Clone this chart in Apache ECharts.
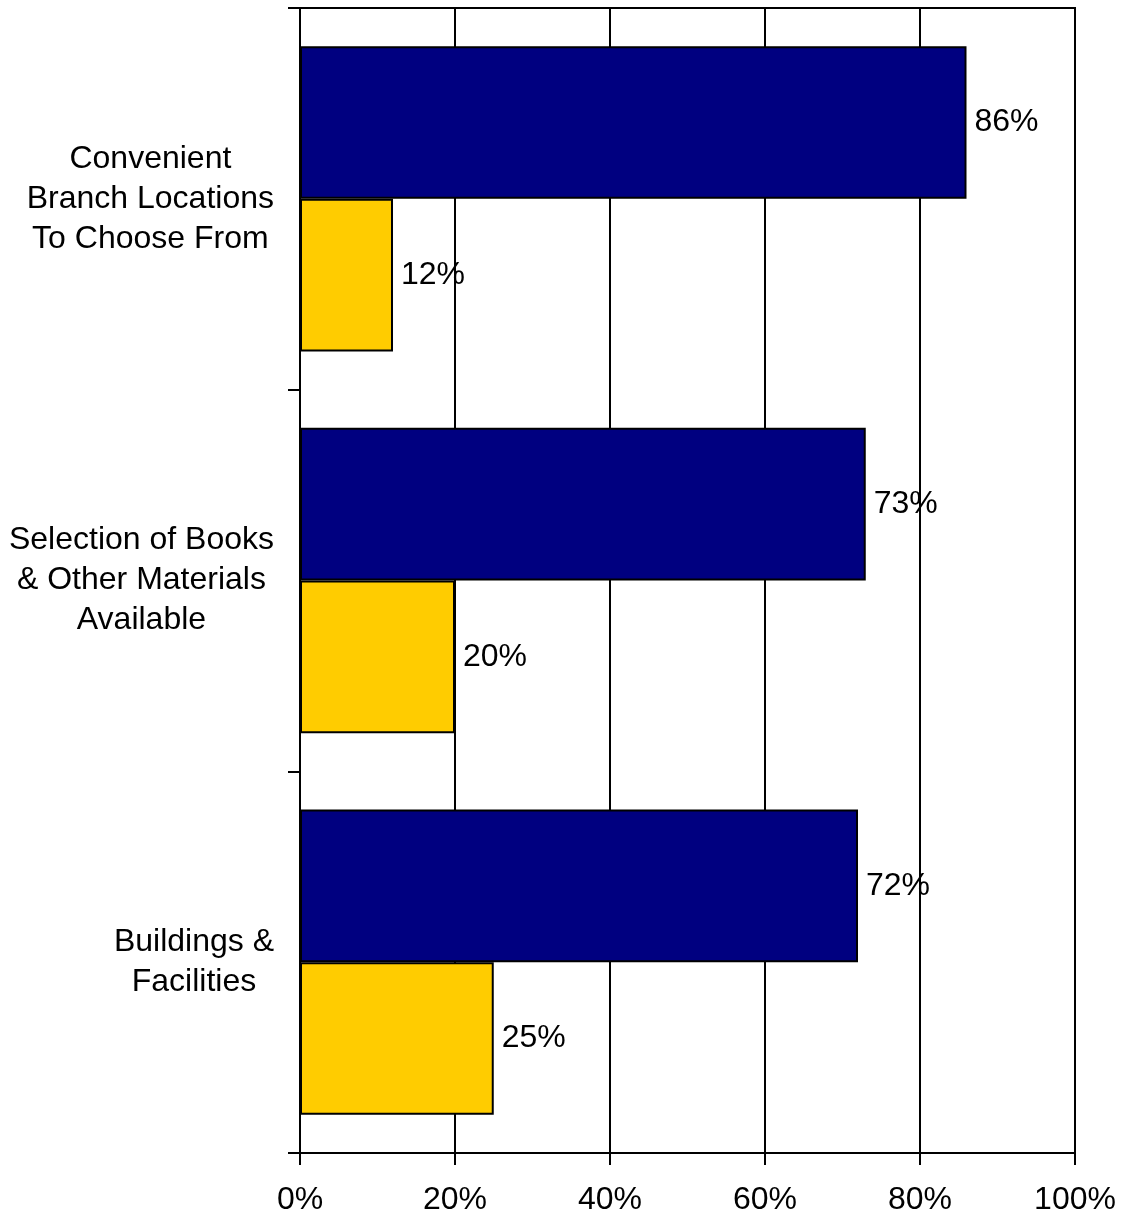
<!DOCTYPE html>
<html>
<head>
<meta charset="utf-8">
<script src="https://cdn.jsdelivr.net/npm/echarts@6/dist/echarts.min.js"></script>
<style>
  html, body { margin: 0; padding: 0; background: #ffffff; }
  #chart { width: 1122px; height: 1218px; }
</style>
</head>
<body>
<div id="chart"></div>
<script>
// Category names (top to bottom)
const categories = [
  'Convenient\nBranch Locations\nTo Choose From',
  'Selection of Books\n& Other Materials\nAvailable',
  'Buildings &\nFacilities'
];
// Percent values per category
const navyValues = [86, 73, 72];
const goldValues = [12, 20, 25];
// Value axis tick settings
const axisMin = 0;
const axisMax = 100;
const axisStep = 20;

const FONT = '"Liberation Sans", Arial, sans-serif';
const FS = 32;

const chart = echarts.init(document.getElementById('chart'), null, { renderer: 'canvas' });

const barLabel = {
  show: true,
  position: 'right',
  distance: 8,
  formatter: p => p.value + '%',
  color: '#000',
  fontFamily: FONT,
  fontSize: FS
};

chart.setOption({
  animation: false,
  backgroundColor: '#ffffff',
  grid: {
    left: 300,
    right: 47,
    top: 8,
    bottom: 65,
    show: true,
    borderColor: '#000',
    borderWidth: 2,
    backgroundColor: 'transparent'
  },
  xAxis: {
    type: 'value',
    min: axisMin,
    max: axisMax,
    interval: axisStep,
    axisLine: { show: true, lineStyle: { color: '#000', width: 2 } },
    axisTick: { show: true, inside: false, length: 12, lineStyle: { color: '#000', width: 2 } },
    splitLine: { show: true, lineStyle: { color: '#000', width: 2 } },
    axisLabel: {
      formatter: v => v + '%',
      color: '#000',
      fontFamily: FONT,
      fontSize: FS,
      margin: 31
    }
  },
  yAxis: {
    type: 'category',
    inverse: true,
    data: categories,
    axisLine: { show: true, lineStyle: { color: '#000', width: 2 } },
    axisTick: { show: true, inside: false, length: 12, lineStyle: { color: '#000', width: 2 } },
    axisLabel: {
      margin: 26,
      align: 'right',
      color: '#000',
      fontFamily: FONT,
      fontSize: FS,
      lineHeight: 40,
      formatter: v => v.split('\n').map(l => '{c|' + l + '}').join('\n'),
      rich: {
        c: { align: 'center', color: '#000', fontFamily: FONT, fontSize: FS, lineHeight: 40 }
      }
    }
  },
  series: [
    {
      type: 'bar',
      data: navyValues,
      barGap: '0%',
      barCategoryGap: '20%',
      itemStyle: { color: '#000080', borderColor: '#000', borderWidth: 2 },
      label: barLabel
    },
    {
      type: 'bar',
      data: goldValues,
      barGap: '0%',
      barCategoryGap: '20%',
      itemStyle: { color: '#FFCC00', borderColor: '#000', borderWidth: 2 },
      label: barLabel
    }
  ]
});
</script>
</body>
</html>
